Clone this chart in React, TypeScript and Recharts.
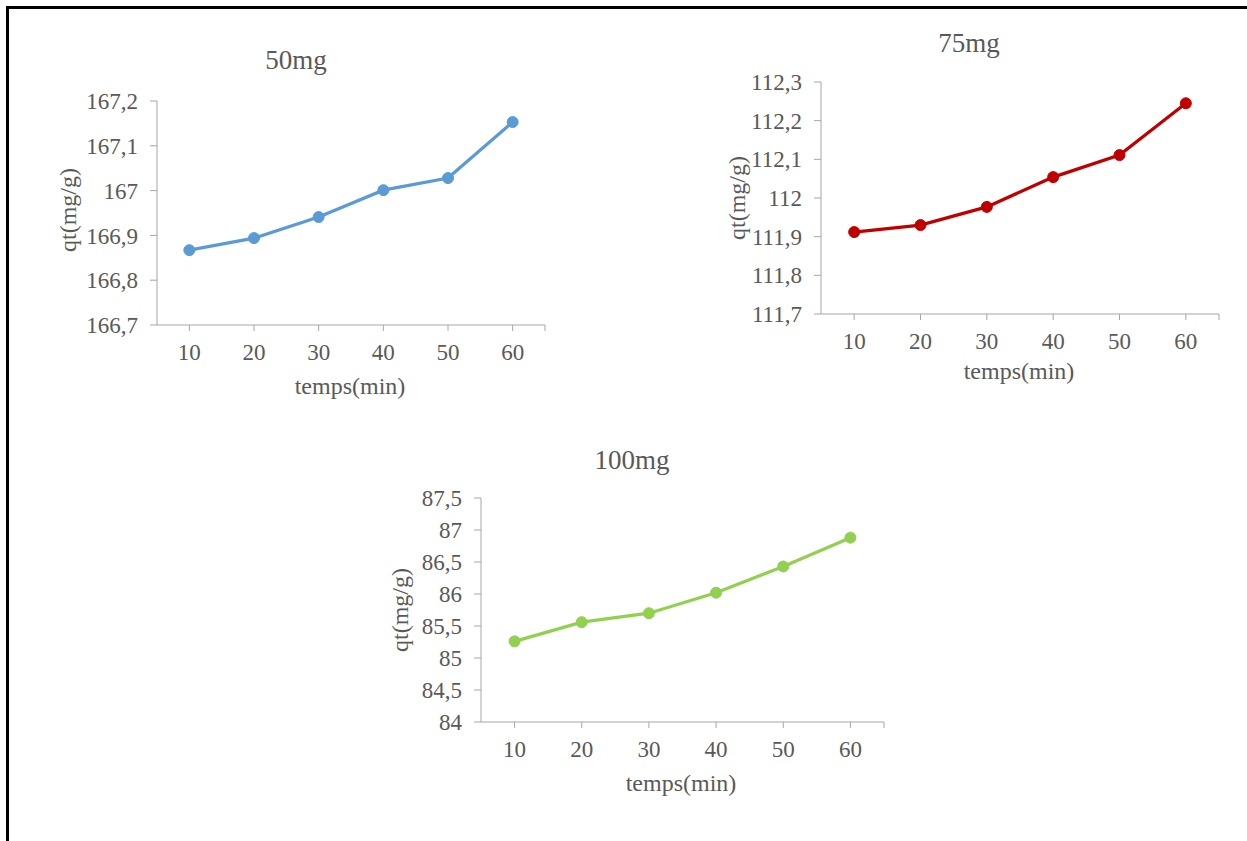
import React from "react";
import { LineChart, Line, XAxis, YAxis } from "recharts";

// time axis (min)
const times = [10, 20, 30, 40, 50, 60];

// qt (mg/g) for each adsorbent dose
const qt50 = [166.867, 166.894, 166.941, 167.001, 167.028, 167.153];
const qt75 = [111.912, 111.93, 111.977, 112.054, 112.111, 112.245];
const qt100 = [85.26, 85.56, 85.7, 86.02, 86.43, 86.88];

// y tick values
const yTicks50 = [166.7, 166.8, 166.9, 167.0, 167.1, 167.2];
const yTicks75 = [111.7, 111.8, 111.9, 112.0, 112.1, 112.2, 112.3];
const yTicks100 = [84, 84.5, 85, 85.5, 86, 86.5, 87, 87.5];

const xTicks = [10, 20, 30, 40, 50, 60, 65];

const titles = ["50mg", "75mg", "100mg"];
const xTitle = "temps(min)";
const yTitle = "qt(mg/g)";

const FONT = '"Liberation Serif", "Times New Roman", serif';
const TEXT = "#595959";
const AXIS = "#A6A6A6";

const fmt = (v: number) => String(Number(v.toFixed(1))).replace(".", ",");

const tickText: React.CSSProperties = { fontFamily: FONT, fontSize: 23, fill: TEXT };

// custom tick renderers so the serif font actually reaches the svg text
const XTick = (props: any) => {
  const { x, y, payload } = props;
  if (payload.value === 65) return <g />;
  return (
    <text x={x} y={y} dy="0.71em" textAnchor="middle" style={tickText}>
      {String(payload.value)}
    </text>
  );
};

const YTick = (props: any) => {
  const { x, y, payload } = props;
  return (
    <text x={x} y={y} dy="0.355em" textAnchor="end" style={tickText}>
      {fmt(payload.value)}
    </text>
  );
};

type PanelProps = {
  values: number[];
  yTicks: number[];
  color: string;
  title: string;
  // plot rectangle in page pixels
  plot: { left: number; top: number; right: number; bottom: number };
  titlePos: [number, number];
  xLabelPos: [number, number];
  yLabelPos: [number, number];
};

const Y_W = 120;
const X_H = 50;
const M_TOP = 20;
const M_RIGHT = 10;

function Panel({ values, yTicks, color, title, plot, titlePos, xLabelPos, yLabelPos }: PanelProps) {
  const data = times.map((t, i) => ({ t, qt: values[i] }));
  const w = plot.right - plot.left + Y_W + M_RIGHT;
  const h = plot.bottom - plot.top + M_TOP + X_H;

  const textStyle: React.CSSProperties = {
    position: "absolute",
    fontFamily: FONT,
    color: TEXT,
    lineHeight: 1,
    whiteSpace: "nowrap",
  };

  return (
    <>
      <div style={{ position: "absolute", left: plot.left - Y_W, top: plot.top - M_TOP }}>
        <LineChart
          width={w}
          height={h}
          data={data}
          margin={{ top: M_TOP, right: M_RIGHT, left: 0, bottom: 0 }}
        >
          <XAxis
            dataKey="t"
            type="number"
            domain={[5, 65]}
            ticks={xTicks}
            interval={0}
            allowDataOverflow
            height={X_H}
            tickSize={6}
            tickMargin={13}
            axisLine={{ stroke: AXIS }}
            tickLine={{ stroke: AXIS }}
            tick={XTick}
          />
          <YAxis
            type="number"
            domain={[yTicks[0], yTicks[yTicks.length - 1]]}
            ticks={yTicks}
            interval={0}
            allowDataOverflow
            width={Y_W}
            tickSize={7}
            tickMargin={12}
            axisLine={{ stroke: AXIS }}
            tickLine={{ stroke: AXIS }}
            tick={YTick}
          />
          <Line
            type="linear"
            dataKey="qt"
            stroke={color}
            strokeWidth={3.25}
            dot={{ r: 5.5, fill: color, stroke: color, strokeWidth: 1 }}
            activeDot={false}
            isAnimationActive={false}
          />
        </LineChart>
      </div>
      <div
        style={{
          ...textStyle,
          fontSize: 27,
          left: titlePos[0],
          top: titlePos[1],
          transform: "translate(-50%, -50%)",
        }}
      >
        {title}
      </div>
      <div
        style={{
          ...textStyle,
          fontSize: 24,
          left: xLabelPos[0],
          top: xLabelPos[1],
          transform: "translate(-50%, -50%)",
        }}
      >
        {xTitle}
      </div>
      <div
        style={{
          ...textStyle,
          fontSize: 24,
          left: yLabelPos[0],
          top: yLabelPos[1],
          transform: "translate(-50%, -50%) rotate(-90deg)",
        }}
      >
        {yTitle}
      </div>
    </>
  );
}

export default function App() {
  return (
    <div
      style={{
        position: "absolute",
        left: 0,
        top: 0,
        width: 1247,
        height: 841,
        overflow: "hidden",
        background: "#fff",
      }}
    >
      {/* frame: top and left borders only */}
      <div
        style={{
          position: "absolute",
          left: 6,
          top: 6,
          width: 1241,
          height: 835,
          borderTop: "3px solid #000",
          borderLeft: "3px solid #000",
          boxSizing: "border-box",
        }}
      />
      <Panel
        values={qt50}
        yTicks={yTicks50}
        color="#5B9BD5"
        title={titles[0]}
        plot={{ left: 157, top: 101, right: 545, bottom: 325 }}
        titlePos={[296, 60]}
        xLabelPos={[350, 386]}
        yLabelPos={[68, 210]}
      />
      <Panel
        values={qt75}
        yTicks={yTicks75}
        color="#C00000"
        title={titles[1]}
        plot={{ left: 821, top: 82, right: 1219, bottom: 314 }}
        titlePos={[969, 43]}
        xLabelPos={[1019, 371]}
        yLabelPos={[737, 198]}
      />
      <Panel
        values={qt100}
        yTicks={yTicks100}
        color="#92D050"
        title={titles[2]}
        plot={{ left: 481, top: 498, right: 884, bottom: 722 }}
        titlePos={[632, 460]}
        xLabelPos={[681, 783]}
        yLabelPos={[400, 610]}
      />
    </div>
  );
}
